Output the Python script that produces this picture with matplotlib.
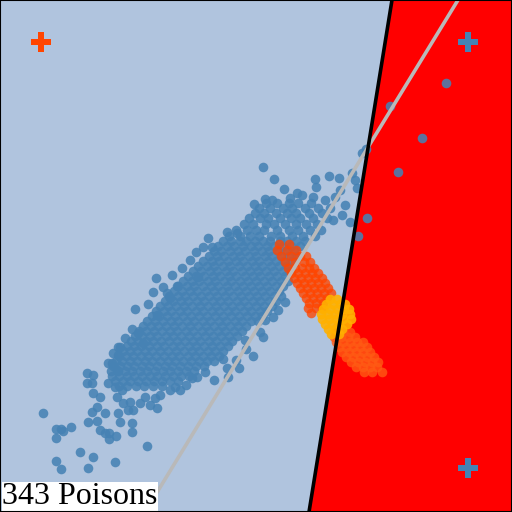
import matplotlib
matplotlib.use("Agg")
import matplotlib.pyplot as plt

# ---------------- data (pixel-space coordinates, y grows downward) -------------
# dense core of clean points: (row y, x positions)
core_rows = [
    (203, [266, 277, 289, 298, 311]),
    (208, [259, 270, 283, 292, 305, 318]),
    (213, [255, 264, 276, 287, 296, 309, 322]),
    (218, [249, 260, 268, 280, 291, 300, 313, 327]),
    (224, [244, 253, 266, 274, 285, 296, 306, 317]),
    (230, [236, 247, 256, 264, 277, 289, 298, 310, 321]),
    (236, [229, 240, 250, 259, 271, 280, 292, 303, 315]),
    (241, [223, 231, 240, 246, 255, 263, 270, 280, 287, 296, 305]),
    (246, [218, 227, 234, 243, 251, 258, 267, 274, 283, 291, 300]),
    (251, [214, 221, 230, 238, 245, 254, 262, 269, 278, 286, 294]),
    (256, [209, 217, 224, 233, 240, 249, 256, 265, 272, 281, 289, 297]),
    (261, [203, 212, 219, 228, 236, 243, 252, 259, 268, 276, 284, 292]),
    (266, [198, 207, 214, 223, 230, 239, 247, 255, 262, 271, 279, 287]),
    (271, [193, 201, 210, 217, 226, 233, 242, 250, 258, 266, 274, 283, 290]),
    (276, [188, 196, 204, 213, 220, 229, 236, 245, 253, 260, 269, 277, 285]),
    (281, [183, 192, 199, 208, 215, 224, 231, 240, 248, 256, 264, 272, 281, 288]),
    (286, [178, 187, 194, 203, 211, 218, 227, 235, 243, 251, 259, 267, 276, 283]),
    (291, [174, 182, 190, 197, 206, 214, 222, 229, 238, 246, 254, 262, 270, 279]),
    (296, [169, 178, 185, 193, 201, 209, 217, 225, 233, 241, 249, 257, 265, 274, 281]),
    (301, [165, 173, 181, 188, 197, 204, 213, 220, 228, 237, 244, 253, 260, 269, 276]),
    (306, [160, 168, 176, 184, 192, 200, 208, 216, 224, 232, 240, 248, 256, 264, 272]),
    (311, [156, 164, 171, 180, 187, 196, 203, 212, 219, 228, 235, 244, 251, 260, 267]),
    (316, [152, 159, 167, 175, 183, 191, 199, 207, 215, 223, 231, 239, 247, 255, 262]),
    (321, [147, 155, 163, 171, 178, 187, 194, 203, 210, 219, 226, 235, 242, 251, 258]),
    (326, [143, 151, 158, 166, 174, 182, 190, 198, 206, 214, 222, 230, 238, 246]),
    (331, [139, 146, 154, 162, 170, 177, 186, 193, 202, 209, 218, 225, 234, 242]),
    (336, [135, 142, 150, 157, 166, 173, 181, 189, 197, 205, 213, 221, 229, 237]),
    (341, [131, 138, 146, 153, 161, 169, 177, 185, 193, 200, 209, 216, 225, 232]),
    (346, [127, 134, 141, 149, 157, 164, 173, 180, 189, 196, 204, 212, 220, 228]),
    (351, [123, 130, 137, 145, 152, 160, 168, 176, 184, 192, 199, 208, 215, 223]),
    (356, [119, 126, 133, 141, 148, 156, 164, 172, 179, 188, 195, 203, 211, 219]),
    (361, [116, 122, 130, 137, 145, 152, 160, 168, 175, 183, 191, 199, 207, 214]),
    (366, [113, 120, 127, 134, 142, 149, 157, 165, 172, 180, 188, 196, 204]),
    (371, [111, 118, 125, 132, 140, 147, 155, 163, 170, 178, 186, 194]),
    (376, [112, 119, 127, 134, 142, 150, 157, 165, 173, 181, 189]),
    (381, [115, 123, 130, 138, 146, 154, 162, 170, 178]),
    (386, [119, 127, 136, 144, 153, 162]),
]

# scattered clean points
sparse_x = [263, 274, 284, 315, 316, 329, 339, 352, 297, 302, 290, 265, 272, 254, 313, 325,
            335, 340, 357, 355, 362, 366, 350, 342, 333, 358, 367, 345, 330,
            227, 237, 203, 212, 190, 198, 156, 177, 153, 167, 170, 135, 157, 132, 138, 125,
            143, 118, 120, 113, 118, 108, 112,
            273, 265, 263, 245, 260, 253, 239, 227, 223,
            117, 87, 93, 87, 92, 108, 115, 122, 93, 100, 117, 145, 155, 123, 130, 140, 150,
            157, 97, 92, 105, 118, 128, 133, 43, 88, 97, 120, 132, 71, 56, 61, 63, 100, 105,
            109, 116, 132, 56, 109, 147, 80, 93, 56, 115, 61, 88, 160, 170, 180, 175, 192,
            197, 205, 186,
            208, 196, 182, 172, 163, 148, 246, 236, 228, 214, 285, 278,
            446, 390, 422, 398]
sparse_y = [167, 179, 189, 179, 187, 176, 178, 173, 193, 195, 198, 199, 200, 204, 197, 200,
            197, 190, 188, 180, 153, 149, 222, 215, 220, 236, 218, 205, 208,
            232, 233, 247, 247, 260, 277, 278, 286, 292, 293, 298, 309, 315, 329, 333, 338,
            343, 347, 347, 353, 355, 363, 363,
            317, 320, 337, 340, 332, 356, 368, 368, 359,
            370, 373, 375, 383, 383, 383, 387, 390, 393, 397, 397, 397, 398, 403, 402, 403, 405,
            408, 407, 412, 413, 413, 410, 410, 413, 422, 421, 422, 423, 427, 429, 429, 431, 430, 433,
            433, 436, 432, 438, 439, 446, 452, 457, 461, 462, 469, 468, 395, 390, 390, 387, 378,
            377, 372, 385,
            238, 252, 268, 275, 287, 304, 349, 360, 377, 380, 302, 310,
            83, 106, 138, 172]

# poison points, three colour groups: (row y, x positions)
poison_a_rows = [
    (244, [279, 289]),
    (250, [277, 287, 296]),
    (256, [281, 291, 300, 306]),
    (262, [285, 295, 304, 310]),
    (268, [288, 295, 302, 309, 314]),
    (273, [291, 298, 305, 312, 318]),
    (278, [294, 301, 308, 315, 322]),
    (283, [297, 304, 311, 318, 325]),
    (288, [300, 307, 314, 321, 328]),
    (293, [303, 310, 317, 324, 331]),
    (298, [306, 313, 320, 327]),
    (303, [309, 316, 323]),
    (308, [308, 316, 322]),
    (313, [311]),
]
poison_b_rows = [
    (299, [330, 337]),
    (304, [326, 333, 340, 345]),
    (309, [323, 330, 337, 344, 349]),
    (314, [321, 328, 335, 342, 350]),
    (319, [322, 329, 336, 343, 351]),
    (324, [325, 332, 339, 347]),
    (329, [328, 335, 342]),
    (334, [331, 339]),
]
poison_c_rows = [
    (327, [337]),
    (332, [336, 343, 350]),
    (337, [334, 341, 348, 355]),
    (342, [336, 343, 350, 357, 363]),
    (347, [339, 346, 353, 360, 367]),
    (352, [342, 349, 356, 363, 370]),
    (357, [346, 353, 360, 367, 374]),
    (362, [351, 358, 365, 372, 378]),
    (367, [356, 363, 370, 377]),
    (372, [364, 372, 382]),
]

# decision boundaries (two points each)
boundary_x = [392, 309]
boundary_y = [0, 512]
clean_line_x = [458, 145]
clean_line_y = [0, 512]

# cross markers
poison_cross = ([41], [42])
clean_cross = ([468, 468], [42, 468])

label_text = "343 Poisons"


def rows_to_xy(rows):
    xs, ys = [], []
    for y, row in rows:
        xs.extend(row)
        ys.extend([y] * len(row))
    return xs, ys


# ---------------- plotting ----------------
fig = plt.figure(figsize=(5.12, 5.12), dpi=100)
ax = fig.add_axes([0, 0, 1, 1])
ax.set_xlim(0, 512)
ax.set_ylim(512, 0)
ax.set_facecolor('#B0C4DE')
ax.set_xticks([])
ax.set_yticks([])
for s in ax.spines.values():
    s.set_linewidth(1.5)
    s.set_color('black')
    s.set_zorder(10)

ax.fill_betweenx(boundary_y, boundary_x, 512, color='#FF0000', zorder=0, lw=0)

dot_s = 48
cx, cy = rows_to_xy(core_rows)
ax.scatter(cx + sparse_x, cy + sparse_y, s=dot_s, c='#4682B4', alpha=0.88,
           linewidths=0, zorder=2)

ax_, ay_ = rows_to_xy(poison_a_rows)
bx_, by_ = rows_to_xy(poison_b_rows)
cx_, cy_ = rows_to_xy(poison_c_rows)
ax.scatter(cx_, cy_, s=dot_s, c='#FF5A14', alpha=0.8, linewidths=0, zorder=3)
ax.scatter(ax_, ay_, s=dot_s, c='#FF4500', alpha=0.78, linewidths=0, zorder=3)
ax.scatter(bx_, by_, s=dot_s, c='#FFB000', alpha=0.9, linewidths=0, zorder=3)

ax.plot(clean_line_x, clean_line_y, color='#B9B9B9', lw=2.6, zorder=4,
        solid_capstyle='butt')
ax.plot(boundary_x, boundary_y, color='black', lw=2.6, zorder=5,
        solid_capstyle='butt')

ax.scatter(*poison_cross, marker='P', s=190, c='#FF4500', linewidths=0, zorder=6)
ax.scatter(*clean_cross, marker='P', s=190, c='#4682B4', linewidths=0, zorder=6)

ax.text(0.004, 0.001, label_text, transform=ax.transAxes, ha='left', va='bottom',
        fontfamily='Liberation Serif', fontsize=23, color='black', zorder=8,
        bbox=dict(facecolor='white', edgecolor='none', pad=0.3))

fig.savefig('out.png', dpi=100)
